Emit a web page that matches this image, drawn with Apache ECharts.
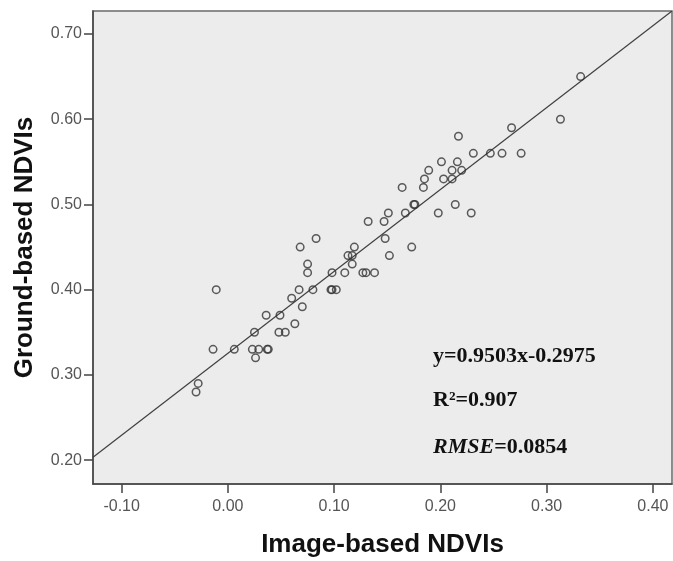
<!DOCTYPE html>
<html>
<head>
<meta charset="utf-8">
<script src="https://cdn.jsdelivr.net/npm/echarts@6/dist/echarts.min.js"></script>
<style>
  html, body { margin: 0; padding: 0; background: #fff; }
  #chart { width: 673px; height: 561px; }
</style>
</head>
<body>
<div id="chart"></div>
<script>
// image-based NDVI (x) vs ground-based NDVI (y)
const imageNdvi = [
  0.068, 0.083, 0.119, 0.113, 0.117, 0.117, 0.075, 0.075, 0.098, 0.110,
  0.127, 0.130, 0.138, -0.011, 0.067, 0.080, 0.097, 0.098, 0.102, 0.060,
  0.070, 0.036, 0.049, 0.063, 0.025, 0.048, 0.054, -0.014, 0.006, 0.023,
  0.029, 0.037, 0.038, 0.026, -0.028, -0.030,
  0.217, 0.231, 0.247, 0.258, 0.276, 0.201, 0.216, 0.189, 0.211, 0.220,
  0.185, 0.203, 0.211, 0.164, 0.184, 0.175, 0.176, 0.214, 0.151, 0.167,
  0.198, 0.229, 0.132, 0.147, 0.148, 0.173, 0.152, 0.332, 0.313, 0.267
];
const groundNdvi = [
  0.45, 0.46, 0.45, 0.44, 0.44, 0.43, 0.43, 0.42, 0.42, 0.42,
  0.42, 0.42, 0.42, 0.40, 0.40, 0.40, 0.40, 0.40, 0.40, 0.39,
  0.38, 0.37, 0.37, 0.36, 0.35, 0.35, 0.35, 0.33, 0.33, 0.33,
  0.33, 0.33, 0.33, 0.32, 0.29, 0.28,
  0.58, 0.56, 0.56, 0.56, 0.56, 0.55, 0.55, 0.54, 0.54, 0.54,
  0.53, 0.53, 0.53, 0.52, 0.52, 0.50, 0.50, 0.50, 0.49, 0.49,
  0.49, 0.49, 0.48, 0.48, 0.46, 0.45, 0.44, 0.65, 0.60, 0.59
];

const xTicks = [-0.10, 0.00, 0.10, 0.20, 0.30, 0.40];
const yTicks = [0.20, 0.30, 0.40, 0.50, 0.60, 0.70];
const xRange = [-0.127, 0.418];
const yRange = [0.172, 0.727];

// fit line as drawn in the plot
const fitSlope = 0.9606;
const fitIntercept = 0.3255;

const statsLines = ['y=0.9503x-0.2975', 'R\u00b2=0.907', '{i|RMSE}{b|=0.0854}'];

const points = imageNdvi.map((x, i) => [x, groundNdvi[i]]);
const fitLine = xRange.map(x => [x, fitSlope * x + fitIntercept]);

const chart = echarts.init(document.getElementById('chart'));

const labelStyle = {
  color: '#555',
  fontFamily: 'Liberation Sans',
  fontSize: 16
};
const titleStyle = {
  color: '#111',
  fontFamily: 'Liberation Sans',
  fontWeight: 'bold',
  fontSize: 26
};
const statFont = {
  fontFamily: 'Liberation Serif',
  fontWeight: 'bold',
  fontSize: 22,
  fill: '#111'
};

chart.setOption({
  animation: false,
  backgroundColor: '#fff',
  grid: {
    left: 93, top: 11, right: 1, bottom: 77,
    containLabel: false,
    outerBoundsMode: 'none',
    show: true,
    backgroundColor: '#ECECEC',
    borderColor: '#6a6a6a',
    borderWidth: 1.5
  },
  xAxis: {
    type: 'value',
    min: xRange[0],
    max: xRange[1],
    name: 'Image-based NDVIs',
    nameLocation: 'middle',
    nameGap: 48,
    nameTextStyle: titleStyle,
    axisLine: { show: true, onZero: false, lineStyle: { color: '#444', width: 1.5 } },
    axisTick: { show: true, length: 9, customValues: xTicks, lineStyle: { color: '#444', width: 1.5 } },
    axisLabel: { ...labelStyle, margin: 15, customValues: xTicks, formatter: v => v.toFixed(2) },
    splitLine: { show: false }
  },
  yAxis: {
    type: 'value',
    min: yRange[0],
    max: yRange[1],
    name: 'Ground-based NDVIs',
    nameLocation: 'middle',
    nameGap: 55,
    nameTextStyle: titleStyle,
    axisLine: { show: true, onZero: false, lineStyle: { color: '#444', width: 1.5 } },
    axisTick: { show: true, length: 9, customValues: yTicks, lineStyle: { color: '#444', width: 1.5 } },
    axisLabel: { ...labelStyle, margin: 11, customValues: yTicks, formatter: v => v.toFixed(2) },
    splitLine: { show: false }
  },
  series: [
    {
      type: 'line',
      data: fitLine,
      symbol: 'none',
      lineStyle: { color: '#404040', width: 1.2 },
      z: 2
    },
    {
      type: 'scatter',
      data: points,
      symbol: 'circle',
      symbolSize: 7.5,
      itemStyle: {
        color: 'rgba(0,0,0,0)',
        borderColor: '#333',
        borderWidth: 1.5
      },
      z: 3
    }
  ],
  graphic: statsLines.map((t, i) => ({
    type: 'text',
    left: 433,
    top: [345, 389, 436][i],
    style: {
      text: t,
      ...statFont,
      rich: {
        i: { fontFamily: 'Liberation Serif', fontWeight: 'bold', fontStyle: 'italic', fontSize: 22, color: '#111' },
        b: { fontFamily: 'Liberation Serif', fontWeight: 'bold', fontSize: 22, color: '#111' }
      }
    }
  }))
});
</script>
</body>
</html>
